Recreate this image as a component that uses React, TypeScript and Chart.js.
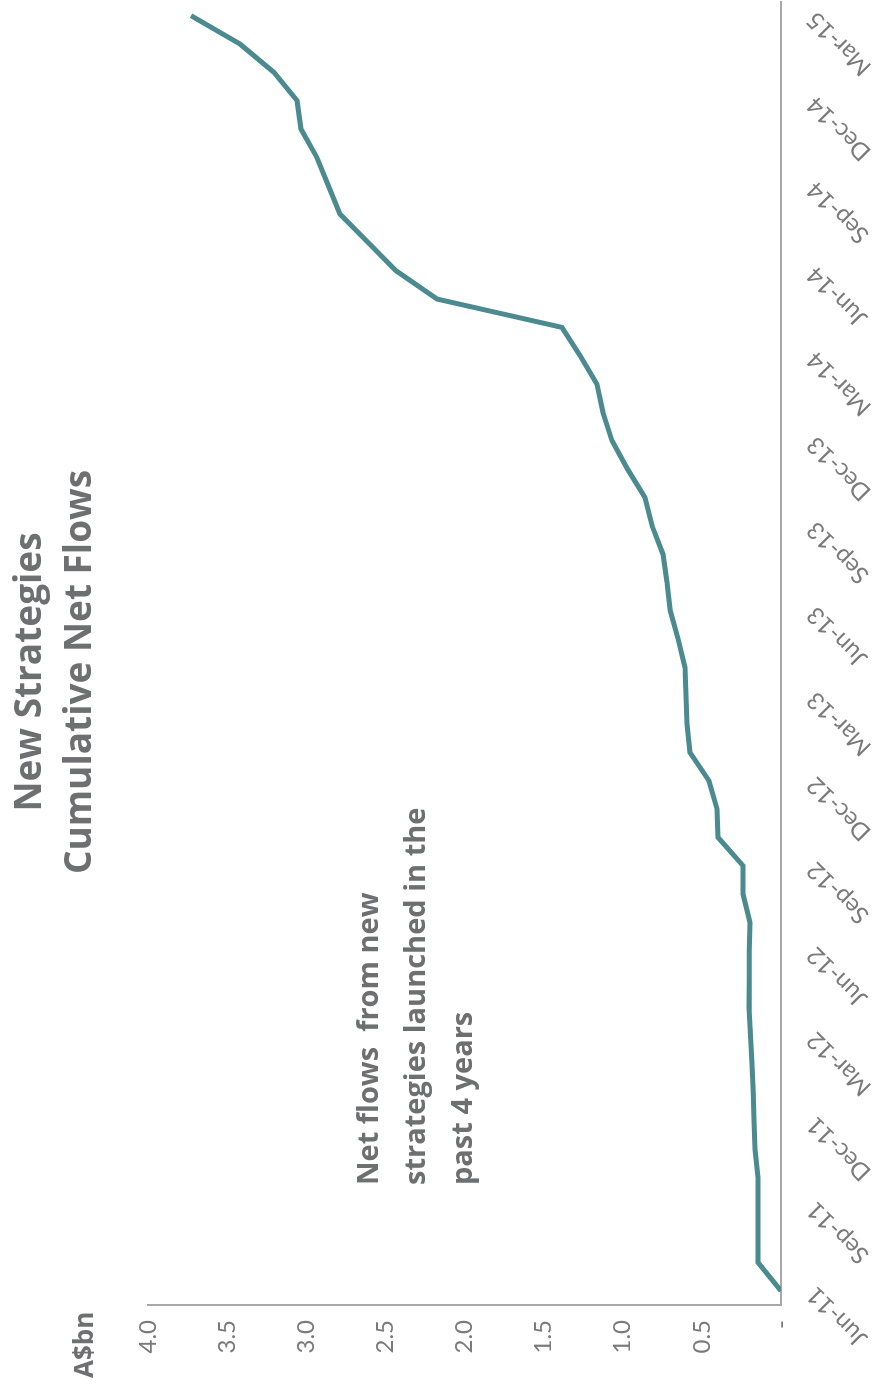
import React, { useEffect, useRef } from 'react';
import { Chart, registerables } from 'chart.js';

Chart.register(...registerables);

// Month-end observations, June 2011 to March 2015
const months = [
  'Jun-11', 'Jul-11', 'Aug-11', 'Sep-11', 'Oct-11', 'Nov-11', 'Dec-11',
  'Jan-12', 'Feb-12', 'Mar-12', 'Apr-12', 'May-12', 'Jun-12', 'Jul-12',
  'Aug-12', 'Sep-12', 'Oct-12', 'Nov-12', 'Dec-12', 'Jan-13', 'Feb-13',
  'Mar-13', 'Apr-13', 'May-13', 'Jun-13', 'Jul-13', 'Aug-13', 'Sep-13',
  'Oct-13', 'Nov-13', 'Dec-13', 'Jan-14', 'Feb-14', 'Mar-14', 'Apr-14',
  'May-14', 'Jun-14', 'Jul-14', 'Aug-14', 'Sep-14', 'Oct-14', 'Nov-14',
  'Dec-14', 'Jan-15', 'Feb-15', 'Mar-15',
];

// Cumulative net flows, A$bn
const cumulativeNetFlows = [
  0, 0.145, 0.145, 0.145, 0.145, 0.164, 0.17, 0.176, 0.183, 0.192,
  0.202, 0.2, 0.2, 0.196, 0.24, 0.24, 0.398, 0.404, 0.455, 0.575,
  0.594, 0.6, 0.607, 0.65, 0.7, 0.72, 0.746, 0.815, 0.86, 0.97,
  1.068, 1.125, 1.163, 1.27, 1.384, 2.174, 2.433, 2.61, 2.787, 2.86,
  2.933, 3.033, 3.058, 3.204, 3.419, 3.728,
];

const titleLines = ['New Strategies', 'Cumulative Net Flows'];
const noteLines = ['Net flows  from new', 'strategies launched in the', 'past 4 years'];
const unitLabel = 'A$bn';

const CANVAS_W = 1389;
const CANVAS_H = 877;
const TEXT_GREY = '#6e6f71';
const TICK_GREY = '#7a7a7a';
const AXIS_GREY = '#a8a8a8';
const LINE_TEAL = '#4b8b90';

const textPlugin = {
  id: 'chartText',
  afterDraw(chart: any) {
    const ctx = chart.ctx as CanvasRenderingContext2D;
    ctx.save();
    ctx.fillStyle = TEXT_GREY;
    ctx.textBaseline = 'alphabetic';

    ctx.font = 'bold 37px "Open Sans"';
    ctx.textAlign = 'center';
    titleLines.forEach((line, i) => ctx.fillText(line, 717, 41 + i * 50));

    ctx.font = 'bold 29px "Open Sans"';
    ctx.textAlign = 'left';
    noteLines.forEach((line, i) => ctx.fillText(line, 204, 378 + i * 47));

    ctx.font = 'bold 26px "Open Sans"';
    ctx.textAlign = 'left';
    ctx.fillText(unitLabel, 11, 93);
    ctx.restore();
  },
};

export default function App() {
  const canvasRef = useRef<HTMLCanvasElement | null>(null);

  useEffect(() => {
    const canvas = canvasRef.current;
    if (!canvas) return;
    const chart = new Chart(canvas, {
      type: 'line',
      data: {
        labels: months,
        datasets: [
          {
            data: cumulativeNetFlows,
            borderColor: LINE_TEAL,
            borderWidth: 5,
            pointRadius: 0,
            tension: 0,
            fill: false,
          },
        ],
      },
      options: {
        responsive: false,
        animation: false,
        devicePixelRatio: 1,
        layout: { padding: { top: 148, right: 1.5, left: 0, bottom: 0 } },
        plugins: {
          legend: { display: false },
          tooltip: { enabled: false },
          title: { display: false },
        },
        scales: {
          x: {
            offset: true,
            grid: { display: false, drawTicks: false },
            border: { display: true, color: AXIS_GREY, width: 2 },
            ticks: {
              autoSkip: false,
              minRotation: 45,
              maxRotation: 45,
              padding: 20,
              color: TICK_GREY,
              font: { family: 'Lato', size: 24, weight: '400' },
              callback: (_v: any, i: number) => (i % 3 === 0 ? months[i] : ''),
            },
            afterFit: (s: any) => {
              s.height = 96;
              s.paddingLeft = 0;
              s.paddingRight = 0;
            },
          },
          y: {
            min: 0,
            max: 4,
            grid: { display: false, drawTicks: false },
            border: { display: true, color: AXIS_GREY, width: 2 },
            ticks: {
              stepSize: 0.5,
              padding: 15,
              color: TICK_GREY,
              font: { family: 'Lato', size: 24, weight: '400' },
              callback: (v: any) => (Number(v) === 0 ? '-' : Number(v).toFixed(1)),
            },
            afterFit: (s: any) => {
              s.width = 84;
            },
          },
        },
      },
      plugins: [textPlugin],
    });
    return () => chart.destroy();
  }, []);

  return (
    <div
      style={{
        position: 'fixed',
        left: 0,
        top: 0,
        width: CANVAS_W,
        height: CANVAS_H,
        background: '#ffffff',
        transformOrigin: '0 0',
        transform: `translateY(${CANVAS_W}px) rotate(-90deg)`,
      }}
    >
      <canvas
        ref={canvasRef}
        width={CANVAS_W}
        height={CANVAS_H}
        style={{ width: CANVAS_W, height: CANVAS_H, display: 'block' }}
      />
    </div>
  );
}
